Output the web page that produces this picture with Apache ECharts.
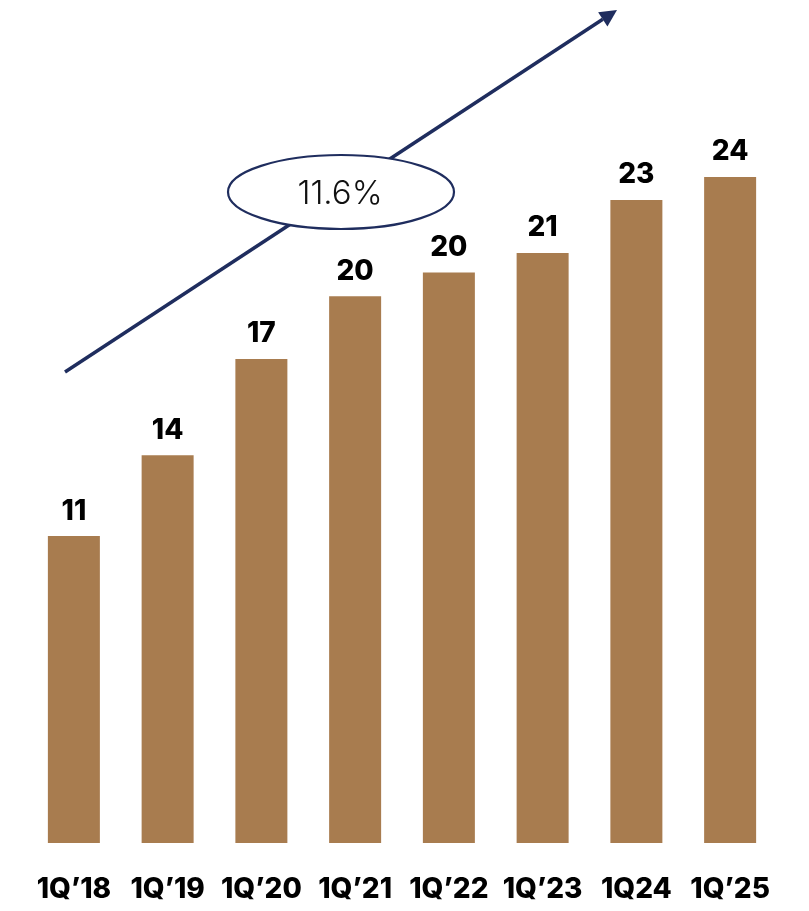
<!DOCTYPE html>
<html>
<head>
<meta charset="utf-8">
<script src="https://cdn.jsdelivr.net/npm/echarts@6/dist/echarts.min.js"></script>
<style>html,body{margin:0;padding:0;background:#fff}#c{width:809px;height:911px}</style>
</head>
<body>
<div id="c"></div>
<script>
const categories = ["1Q’18", "1Q’19", "1Q’20", "1Q’21", "1Q’22", "1Q’23", "1Q24", "1Q’25"];
const values = [11.0, 13.9, 17.35, 19.6, 20.45, 21.15, 23.05, 23.87];
const valueLabels = ["11", "14", "17", "20", "20", "21", "23", "24"];
const cagrText = "11.6%";

const chart = echarts.init(document.getElementById('c'));
const navy = '#1f2d5e';
const ux = 0.8365, uy = -0.548;
const tip = [617, 10];
const base = [tip[0] - 17 * ux, tip[1] - 17 * uy];
const px = -uy, py = ux;
chart.setOption({
  animation: false,
  grid: { left: 27, right: 32, top: 6, bottom: 68 },
  xAxis: {
    type: 'category', data: categories,
    axisLine: { show: false }, axisTick: { show: false },
    axisLabel: { interval: 0, hideOverlap: false, color: '#000', fontFamily: 'Inter', fontWeight: 800, fontSize: 28, margin: 33 }
  },
  yAxis: { type: 'value', min: 0, max: 30, show: false, splitLine: { show: false } },
  series: [{
    type: 'bar', data: values, barWidth: 52,
    itemStyle: { color: '#a87c4f' },
    label: {
      show: true, position: 'top', distance: 11,
      color: '#000', fontFamily: 'Inter', fontWeight: 800, fontSize: 28,
      formatter: p => valueLabels[p.dataIndex]
    }
  }],
  graphic: [
    { type: 'line', shape: { x1: 65, y1: 372, x2: base[0], y2: base[1] }, style: { stroke: navy, lineWidth: 3.5 }, z: 10 },
    { type: 'polygon', shape: { points: [tip, [base[0] + 8.5 * px, base[1] + 8.5 * py], [base[0] - 8.5 * px, base[1] - 8.5 * py]] }, style: { fill: navy }, z: 10 },
    { type: 'ellipse', shape: { cx: 341, cy: 192, rx: 113, ry: 37 }, style: { fill: '#fff', stroke: navy, lineWidth: 2.2 }, z: 11 },
    { type: 'text', x: 340, y: 194, style: { text: cagrText, fill: '#111', font: '300 33px Inter', align: 'center', verticalAlign: 'middle' }, z: 12 }
  ]
});
</script>
</body>
</html>
